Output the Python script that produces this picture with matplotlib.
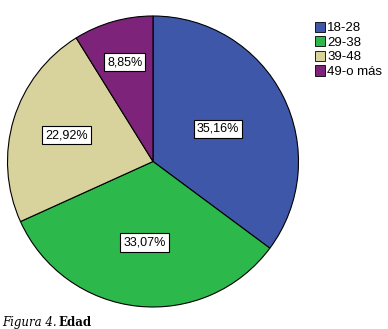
import matplotlib.pyplot as plt
import numpy as np

plt.rcParams['font.family'] = ['Liberation Sans', 'DejaVu Sans']

categorias = ['18-28', '29-38', '39-48', '49-o más']
porcentajes = [35.16, 33.07, 22.92, 8.85]
colores = ['#3f57a8', '#2db84b', '#d8d39d', '#7d2379']
dist_etiq = [0.50, 0.56, 0.62, 0.71]

fig = plt.figure(figsize=(3.88, 3.29), dpi=100)
ax = fig.add_axes([7/388, 22/329, 292/388, 291/329])

wedges, _ = ax.pie(porcentajes, colors=colores, startangle=90, counterclock=False,
                   wedgeprops=dict(edgecolor='black', linewidth=0.8))
ax.set_aspect('equal')
ax.set_xlim(-1.0, 1.0)
ax.set_ylim(-1.0, 1.0)

for w, p, d in zip(wedges, porcentajes, dist_etiq):
    ang = np.deg2rad((w.theta1 + w.theta2) / 2)
    ax.text(d * np.cos(ang), d * np.sin(ang), ('%.2f%%' % p).replace('.', ','),
            ha='center', va='center', fontsize=9,
            bbox=dict(boxstyle='square,pad=0.25', fc='white', ec='black', lw=0.8))

handles = [plt.Rectangle((0, 0), 1, 1, fc=c, ec='black', lw=0.6) for c in colores]
fig.legend(handles, categorias, loc='upper left', bbox_to_anchor=(308/388, 1 - 15/329),
           frameon=False, fontsize=9.5, handlelength=0.8, handleheight=0.8,
           handletextpad=0.15, labelspacing=0.15, borderpad=0)

fig.text(2/388, 3/329, 'Figura 4.', family='DejaVu Serif', style='italic', fontsize=8.5)
fig.text(58/388, 3/329, 'Edad', family='DejaVu Serif', weight='bold', fontsize=8.5)

fig.savefig('out.png', dpi=100)
